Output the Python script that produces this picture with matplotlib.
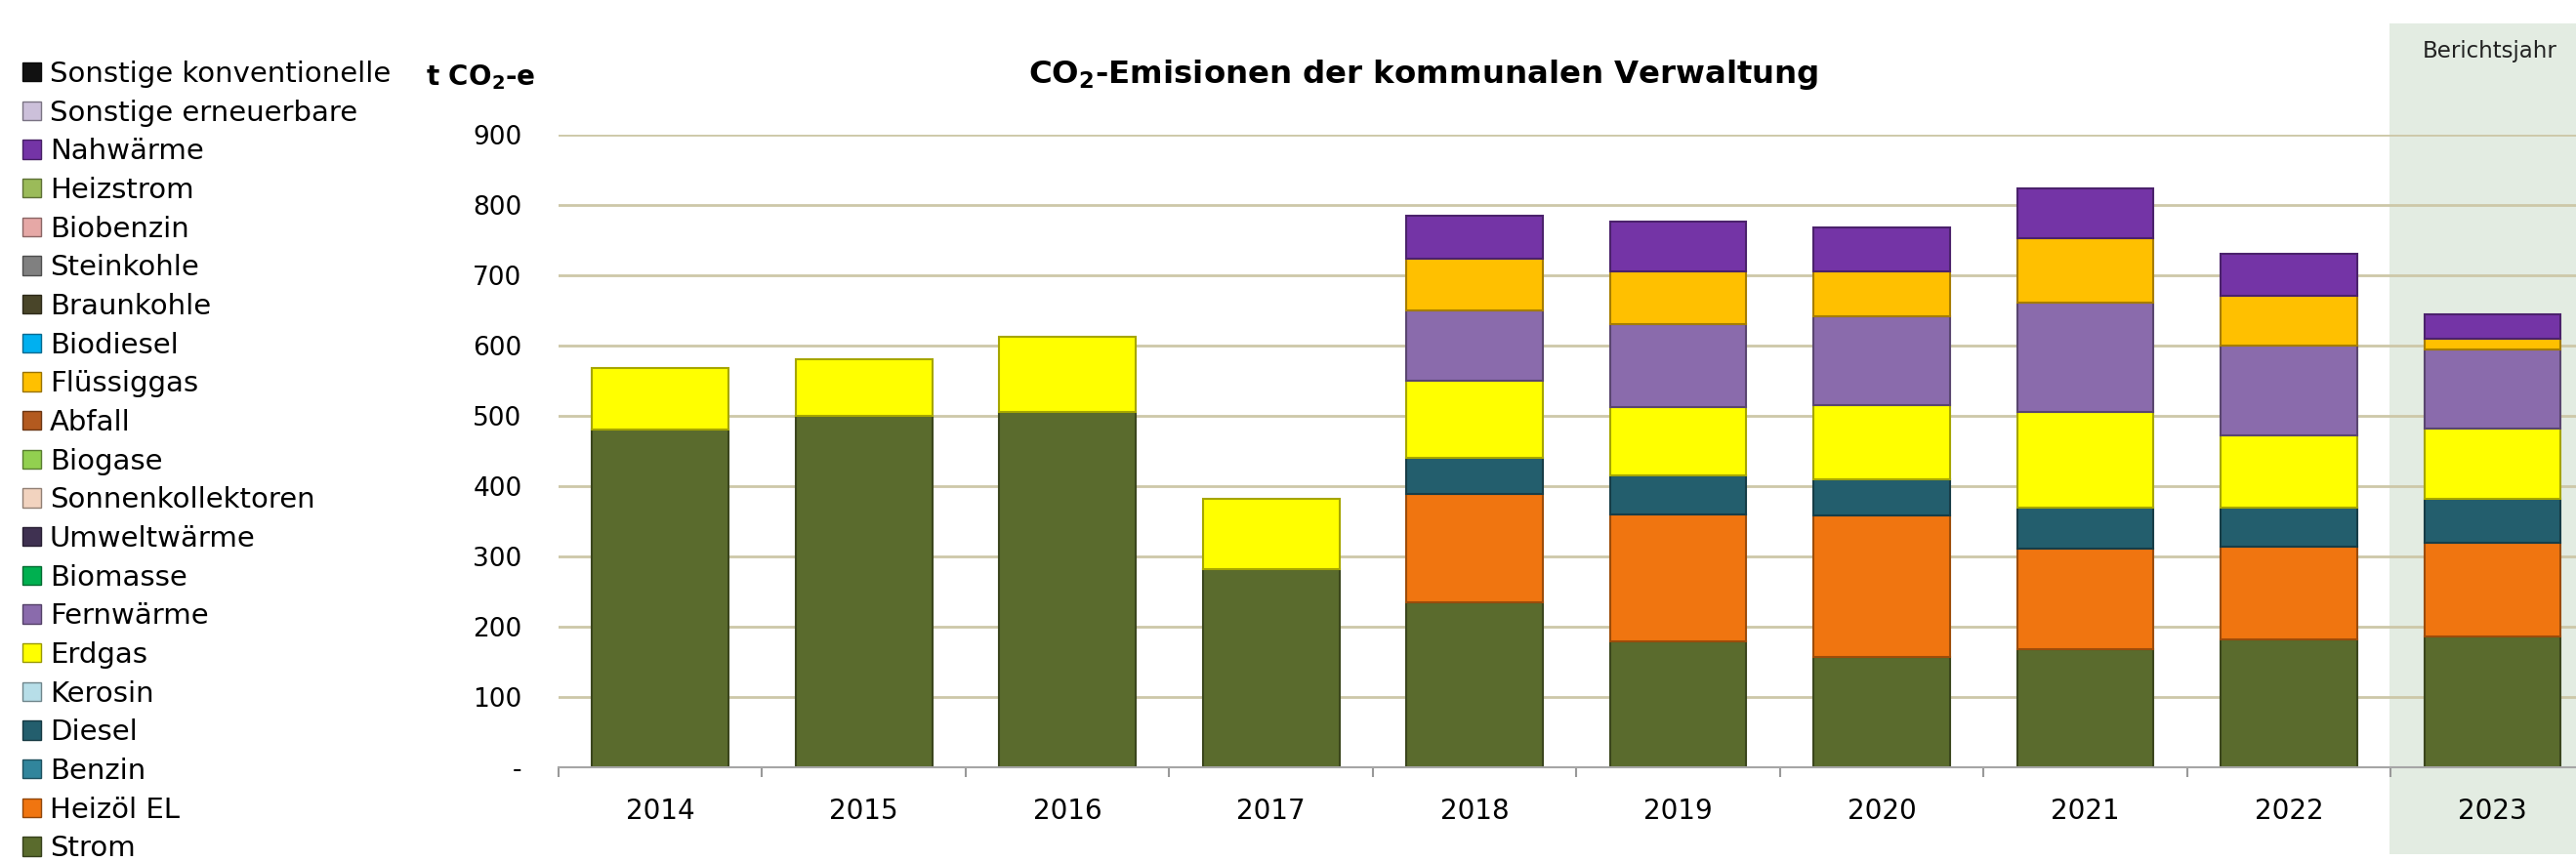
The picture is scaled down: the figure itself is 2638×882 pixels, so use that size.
import numpy as np
import matplotlib
matplotlib.use('Agg')
import matplotlib.pyplot as plt
from matplotlib.patches import Patch, Rectangle
from matplotlib.colors import to_rgb

# CO2-Emissionen der kommunalen Verwaltung, t CO2-e
years = ['2014', '2015', '2016', '2017', '2018', '2019', '2020', '2021', '2022', '2023']

# stacking order bottom -> top
sources = ['Strom', 'Heizöl EL', 'Benzin', 'Diesel', 'Kerosin', 'Erdgas', 'Fernwärme',
           'Biomasse', 'Umweltwärme', 'Sonnenkollektoren', 'Biogase', 'Abfall', 'Flüssiggas',
           'Biodiesel', 'Braunkohle', 'Steinkohle', 'Biobenzin', 'Heizstrom', 'Nahwärme',
           'Sonstige erneuerbare', 'Sonstige konventionelle']

colors = ['#5a6b2d', '#f07510', '#31859c', '#235e6d', '#b7dee8', '#ffff00', '#8a6bac',
          '#00b050', '#3f3151', '#f2d3bf', '#92d050', '#b35a1f', '#ffc000',
          '#00b0f0', '#494529', '#808080', '#e6a8a6', '#9bbb59', '#7434a6',
          '#ccc0da', '#111111']

strom      = [480, 500, 505, 281, 234, 178, 156, 168, 182, 186]
heizoel    = [0, 0, 0, 0, 154, 182, 202, 143, 131, 133]
diesel     = [0, 0, 0, 0, 52, 55, 52, 58, 56, 63]
erdgas     = [88, 81, 107, 101, 110, 97, 105, 136, 103, 99]
fernwaerme = [0, 0, 0, 0, 100, 119, 126, 156, 128, 113]
fluessig   = [0, 0, 0, 0, 73, 75, 64, 91, 71, 15]
nahwaerme  = [0, 0, 0, 0, 62, 70, 63, 72, 60, 35]

values = {s: [0] * len(years) for s in sources}
values['Strom'] = strom
values['Heizöl EL'] = heizoel
values['Diesel'] = diesel
values['Erdgas'] = erdgas
values['Fernwärme'] = fernwaerme
values['Flüssiggas'] = fluessig
values['Nahwärme'] = nahwaerme

yticks = [0, 100, 200, 300, 400, 500, 600, 700, 800, 900]
ylabels = ['-'] + [str(v) for v in yticks[1:]]


def darker(c, f=0.7):
    r, g, b = to_rgb(c)
    return (r * f, g * f, b * f)


W, H = 2638, 882
fig = plt.figure(figsize=(W / 100, H / 100), dpi=100)
ax = fig.add_axes([572 / W, 1 - 785.5 / H, (W - 572) / W, (785.5 - 138) / H])
ax.patch.set_alpha(0)

# Berichtsjahr shading
fig.patches.append(Rectangle((2447 / W, 1 - 875 / H), (W - 2447) / W, (875 - 24) / H,
                             transform=fig.transFigure, facecolor='#e3ece2',
                             edgecolor='none', zorder=-1))
fig.text(2550 / W, 1 - 53 / H, 'Berichtsjahr', ha='center', va='center', fontsize=16.5,
         color='#222222')

x = np.arange(len(years))
bottom = np.zeros(len(years))
for s, c in zip(sources, colors):
    v = np.array(values[s], dtype=float)
    m = v > 0
    if m.any():
        ax.bar(x[m], v[m], bottom=bottom[m], width=0.67, color=c,
               edgecolor=darker(c, 0.65), linewidth=1.5, zorder=3)
    bottom += v

ax.set_xlim(-0.5, 9.41)
ax.set_ylim(0, 900)
ax.set_yticks(yticks)
ax.set_yticklabels(ylabels, fontsize=19)
ax.set_xticks(x)
ax.set_xticklabels(years, fontsize=20)
ax.set_xticks(np.arange(-0.5, 9.5, 1), minor=True)
ax.tick_params(axis='y', length=0, pad=27)
ax.tick_params(axis='x', which='major', length=0, pad=23)
ax.tick_params(axis='x', which='minor', length=7, width=1.5, color='#999999', direction='out')
ax.grid(axis='y', color='#cdc8a8', linewidth=2, zorder=0)
for sp in ['top', 'right', 'left']:
    ax.spines[sp].set_visible(False)
ax.spines['bottom'].set_color('#a6a6a6')
ax.spines['bottom'].set_linewidth(1.5)
ax.spines['bottom'].set_zorder(4)

fig.text(1458 / W, 1 - 76 / H, r'CO$_\mathbf{2}$-Emisionen der kommunalen Verwaltung',
         ha='center', va='center', fontsize=23.3, fontweight='bold')
fig.text(492 / W, 1 - 79 / H, r't CO$_\mathbf{2}$-e', ha='center', va='center',
         fontsize=20, fontweight='bold')

handles = [Patch(facecolor=c, edgecolor=darker(c, 0.6), linewidth=1) for c in colors][::-1]
fig.legend(handles, sources[::-1], loc='upper left', bbox_to_anchor=(23 / W, 1 - 62 / H),
           bbox_transform=fig.transFigure, frameon=False, fontsize=21,
           handlelength=0.65, handleheight=0.65, handletextpad=0.3,
           labelspacing=0.4, borderpad=0, borderaxespad=0)

fig.savefig('out.png', dpi=100)
